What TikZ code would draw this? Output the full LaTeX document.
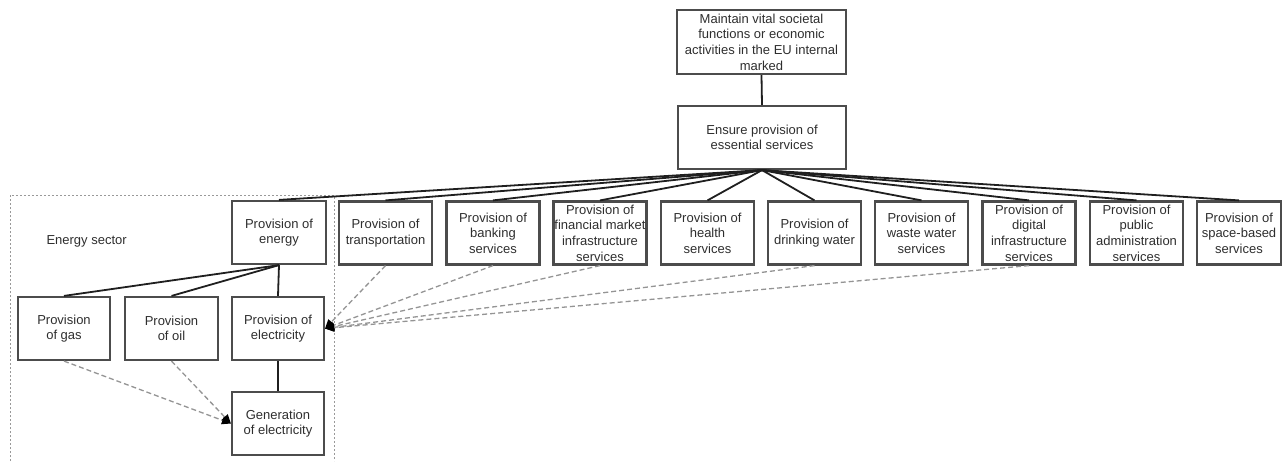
\documentclass[tikz,border=0pt]{standalone}
\usepackage{fontspec}
\setmainfont{Liberation Sans}
\usetikzlibrary{arrows.meta}
\tikzset{
  box/.style={draw=black!70, line width=2.2pt, minimum width=93pt, minimum height=63pt,
    align=center, inner sep=0pt, font=\fontsize{13pt}{15.6pt}\selectfont, text=black!82},
  tree/.style={draw=black!88, line width=1.8pt},
  dep/.style={draw=black!42, line width=1.3pt, dash pattern=on 5pt off 3pt,
    -{Triangle[length=9pt,width=8pt,color=black]}},
  sector/.style={draw=black!40, line width=0.8pt, dash pattern=on 2pt off 2pt}
}
\begin{document}
\begin{tikzpicture}[x=1pt,y=-1pt]
\useasboundingbox (0,0) rectangle (1283,461);
% energy sector frame
\coordinate (s1) at (10,461);
\coordinate (s2) at (10,195);
\coordinate (s3) at (334,195);
\coordinate (s4) at (334,461);
\draw[sector] (s1) -- (s2) -- (s3) -- (s4);
\node[font=\fontsize{13pt}{15.6pt}\selectfont, text=black!82, anchor=west] (es) at (43,241) {Energy sector};

\node[box, minimum width=169pt, minimum height=64pt] (top) at (761.5,42) {Maintain vital societal\\functions or economic\\activities in the EU internal\\marked};
\node[box, minimum width=168pt, minimum height=63pt] (ens) at (762,137.5) {Ensure provision of\\essential services};

\node[box, minimum width=94pt] (energy) at (279,232.5) {Provision of\\energy};
\node[box] (trans) at (385.5,233) {Provision of\\transportation};
\node[box] (bank) at (493,233) {Provision of\\banking\\services};
\node[box] (fin) at (600,233) {Provision of\\financial market\\infrastructure\\services};
\node[box] (health) at (707.5,233) {Provision of\\health\\services};
\node[box] (drink) at (814.5,233) {Provision of\\drinking water};
\node[box] (waste) at (921.5,233) {Provision of\\waste water\\services};
\node[box] (digital) at (1029,233) {Provision of\\digital\\infrastructure\\services};
\node[box] (public) at (1136.5,233) {Provision of\\public\\administration\\services};
\node[box, minimum width=84pt] (space) at (1239,233) {Provision of\\space-based\\services};

\node[box, minimum width=92pt] (gas) at (64,328.5) {Provision\\of gas};
\node[box] (oil) at (171.5,328.5) {Provision\\of oil};
\node[box, minimum width=92pt] (elec) at (278,328.5) {Provision of\\electricity};
\node[box, minimum width=92pt] (gen) at (278,423.5) {Generation\\of electricity};

% tree
\draw[tree] (top.south) -- (ens.north);
\foreach \n in {energy,trans,bank,fin,health,drink,waste,digital,public,space}
  \draw[tree] (ens.south) -- (\n.north);
\foreach \n in {gas,oil,elec}
  \draw[tree] (energy.south) -- (\n.north);
\draw[tree] (elec.south) -- (gen.north);

% dependencies
\foreach \n in {trans,bank,fin,drink,digital}
  \draw[dep] (\n.south) -- (elec.east);
\draw[dep] (gas.south) -- (gen.west);
\draw[dep] (oil.south) -- (gen.west);
\end{tikzpicture}
\end{document}
